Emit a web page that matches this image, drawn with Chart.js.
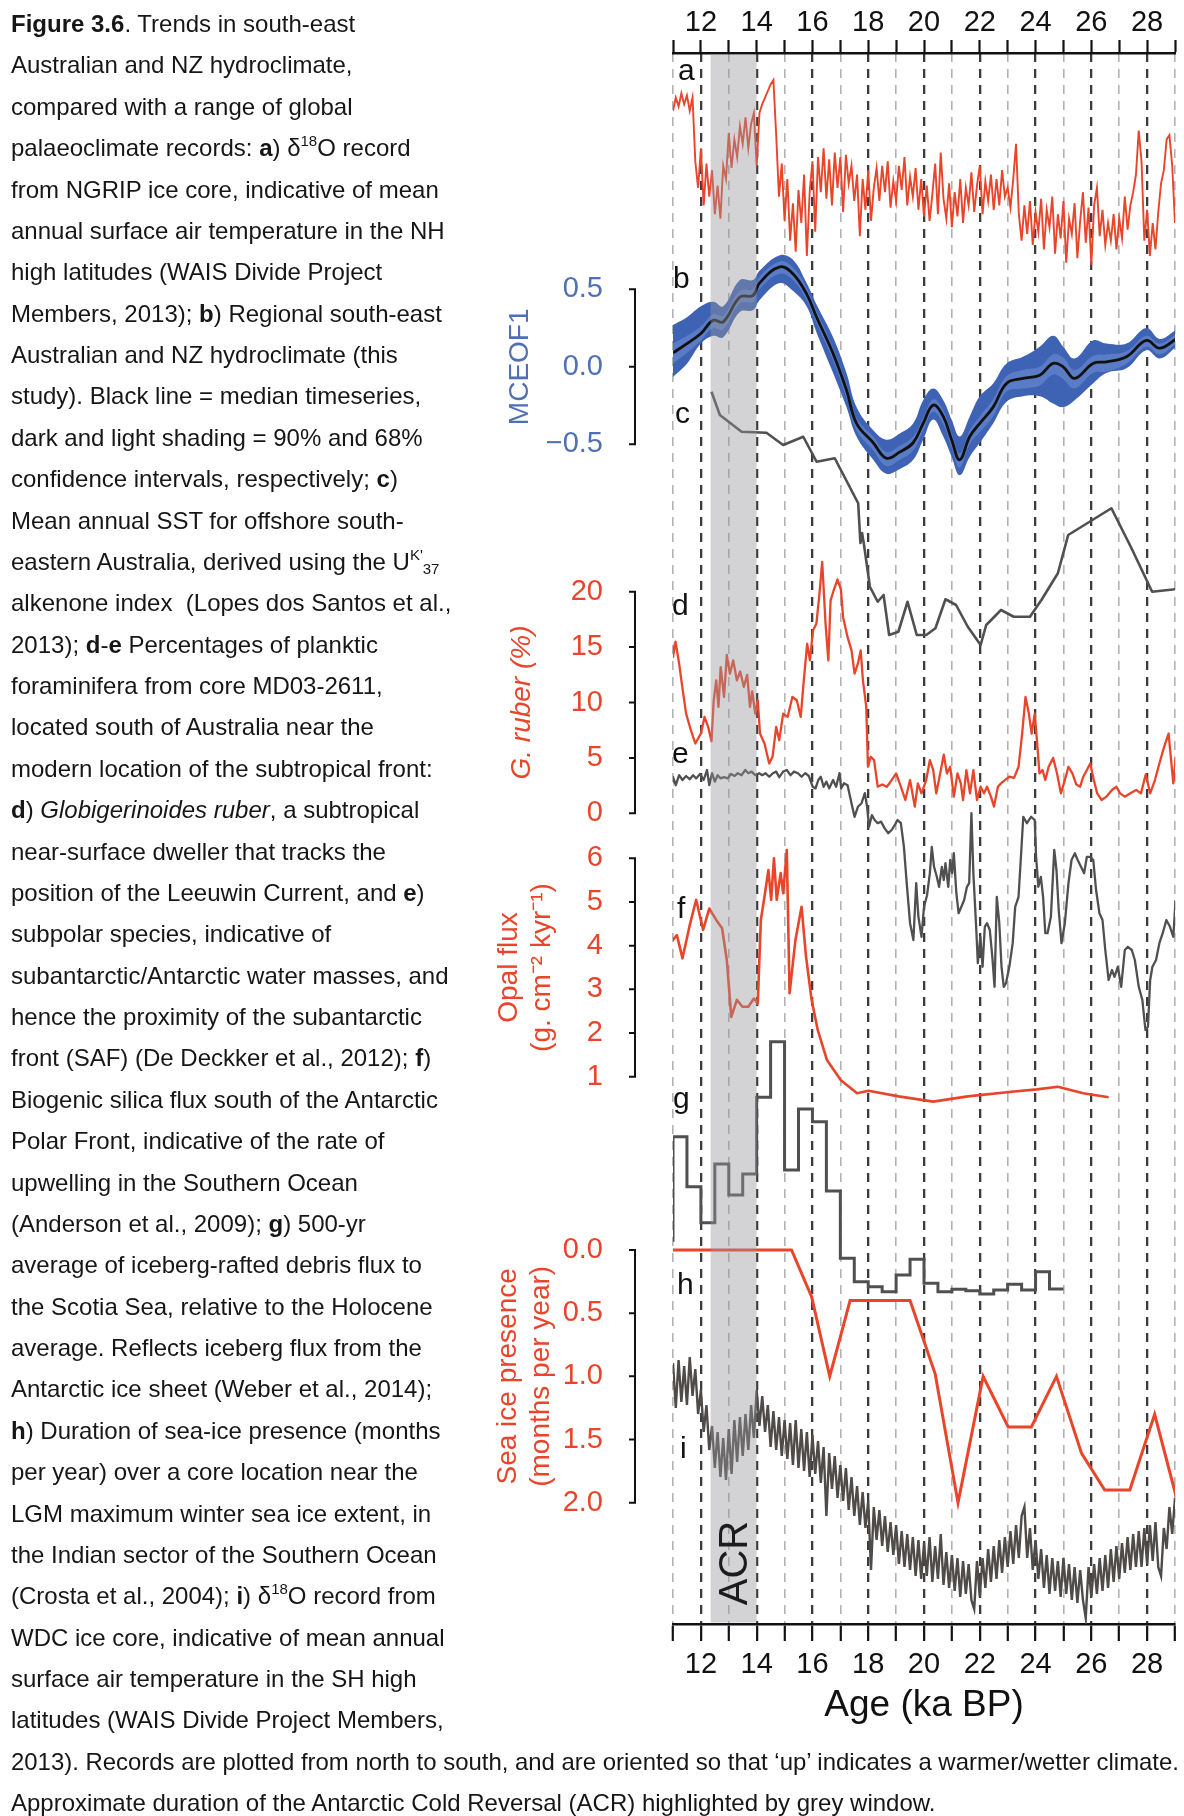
<!DOCTYPE html>
<html>
<head>
<meta charset="utf-8">
<title>Figure 3.6</title>
<script src="https://cdn.jsdelivr.net/npm/chart.js@4.4.1/dist/chart.umd.min.js"></script>
<style>
  html, body { margin: 0; padding: 0; background: #fff; }
  body { width: 1184px; height: 1816px; position: relative; overflow: hidden; }
  #chart { position: absolute; left: 0; top: 0; }
  .caption { position: absolute; left: 11px; top: 3px; z-index: 2;
    font-family: "Liberation Sans", Arial, Helvetica, sans-serif; font-size: 24px; color: #161616; }
  .caption div { height: 41.38px; line-height: 41.38px; white-space: nowrap; transform-origin: left center; }
  .caption sup, .caption sub { font-size: 15px; line-height: 0; position: relative; vertical-align: baseline; }
  .caption sup { top: -10px; }
  .caption sub { top: 4px; }
</style>
</head>
<body>
<canvas id="chart" width="1184" height="1816"></canvas>
<div class="caption">
  <div><b>Figure 3.6</b>. Trends in south-east</div>
  <div>Australian and NZ hydroclimate,</div>
  <div>compared with a range of global</div>
  <div>palaeoclimate records: <b>a</b>) δ<sup>18</sup>O record</div>
  <div>from NGRIP ice core, indicative of mean</div>
  <div>annual surface air temperature in the NH</div>
  <div>high latitudes (WAIS Divide Project</div>
  <div>Members, 2013); <b>b</b>) Regional south-east</div>
  <div>Australian and NZ hydroclimate (this</div>
  <div>study). Black line = median timeseries,</div>
  <div>dark and light shading = 90% and 68%</div>
  <div>confidence intervals, respectively; <b>c</b>)</div>
  <div>Mean annual SST for offshore south-</div>
  <div>eastern Australia, derived using the U<sup>K'</sup><sub>37</sub></div>
  <div>alkenone index&nbsp; (Lopes dos Santos et al.,</div>
  <div>2013); <b>d</b>-<b>e</b> Percentages of planktic</div>
  <div>foraminifera from core MD03-2611,</div>
  <div>located south of Australia near the</div>
  <div>modern location of the subtropical front:</div>
  <div><b>d</b>) <i>Globigerinoides ruber</i>, a subtropical</div>
  <div>near-surface dweller that tracks the</div>
  <div>position of the Leeuwin Current, and <b>e</b>)</div>
  <div>subpolar species, indicative of</div>
  <div>subantarctic/Antarctic water masses, and</div>
  <div>hence the proximity of the subantarctic</div>
  <div>front (SAF) (De Deckker et al., 2012); <b>f</b>)</div>
  <div>Biogenic silica flux south of the Antarctic</div>
  <div>Polar Front, indicative of the rate of</div>
  <div>upwelling in the Southern Ocean</div>
  <div>(Anderson et al., 2009); <b>g</b>) 500-yr</div>
  <div>average of iceberg-rafted debris flux to</div>
  <div>the Scotia Sea, relative to the Holocene</div>
  <div>average. Reflects iceberg flux from the</div>
  <div>Antarctic ice sheet (Weber et al., 2014);</div>
  <div><b>h</b>) Duration of sea-ice presence (months</div>
  <div>per year) over a core location near the</div>
  <div>LGM maximum winter sea ice extent, in</div>
  <div>the Indian sector of the Southern Ocean</div>
  <div>(Crosta et al., 2004); <b>i</b>) δ<sup>18</sup>O record from</div>
  <div>WDC ice core, indicative of mean annual</div>
  <div>surface air temperature in the SH high</div>
  <div>latitudes (WAIS Divide Project Members,</div>
  <div class="fit">2013). Records are plotted from north to south, and are oriented so that ‘up’ indicates a warmer/wetter climate.</div>
  <div>Approximate duration of the Antarctic Cold Reversal (ACR) highlighted by grey window.</div>
</div>
<script>
// ---- data -------------------------------------------------------------

const ageTicks = [11, 12, 13, 14, 15, 16, 17, 18, 19, 20, 21, 22, 23, 24, 25, 26, 27, 28, 29];
const acrWindow = [12.35, 14.0];

// a) NGRIP d18O (permil), 0.1 ka steps from 11.0 ka
const ngripStart = 11.0, ngripStep = 0.1;
const ngripD18O = [
  -35.9, -35.3, -35.7, -35.1, -35.6, -35.2, -35.9, -35.3, -38.2, -39.4,
  -37.6, -40.2, -38.3, -39.8, -38.6, -40.6, -39.3, -40.8, -38.4, -39.0,
  -36.9, -38.5, -37.2, -38.0, -36.6, -37.4, -36.2, -37.6, -36.5, -36.0,
  -38.4, -36.0, -35.6, -35.3, -35.0, -34.7, -34.5, -37.0, -39.8, -38.3,
  -40.9, -39.0, -41.8, -40.1, -42.3, -39.5, -41.0, -38.8, -42.5, -39.6,
  -38.2, -41.4, -38.0, -39.6, -37.6, -39.9, -38.1, -40.2, -37.8, -39.4,
  -38.0, -40.5, -37.9, -39.2, -38.4, -40.0, -38.8, -41.6, -39.0, -40.4,
  -38.6, -40.9, -39.4, -38.5, -40.0, -38.4, -39.6, -38.2, -40.3, -39.1,
  -40.0, -38.4, -39.5, -38.0, -40.2, -38.9, -39.8, -38.5, -40.4, -39.0,
  -40.7, -39.3, -40.9, -39.7, -38.3, -40.6, -37.8, -39.9, -40.8, -39.2,
  -41.2, -39.6, -40.7, -39.0, -41.0, -39.4, -40.2, -38.7, -40.5, -39.3,
  -38.4, -40.6, -39.1, -40.0, -38.8, -40.4, -39.0, -40.2, -38.6, -39.8,
  -39.4, -40.3, -39.0, -37.4, -40.6, -41.8, -40.2, -41.5, -40.0, -42.0,
  -40.5, -41.4, -39.9, -42.2, -40.4, -41.2, -39.8, -42.4, -40.6, -41.7,
  -40.0, -42.8, -40.8, -41.5, -40.1, -42.6, -40.9, -39.6, -41.9, -40.3,
  -42.9, -40.2, -39.4, -41.6, -40.4, -42.0, -41.0, -41.8, -40.6, -42.2,
  -40.8, -41.7, -39.8, -41.3, -40.2, -39.6, -38.8, -36.8, -38.2, -41.8,
  -40.4, -42.5, -41.0, -42.2, -40.5, -39.2, -38.6, -37.2, -37.0, -38.4,
  -41.0
];

// b) MCEOF1 median with 68% and 90% intervals
const mceofAge = [11.0, 11.5, 12.0, 12.44, 12.8, 13.4, 13.87, 14.1, 14.83, 15.3,
  15.79, 16.15, 16.74, 17.22, 17.58, 18.18, 18.65, 19.13, 19.61, 19.97,
  20.33, 20.69, 20.99, 21.28, 21.64, 22.0, 22.48, 22.96, 23.55, 24.15,
  24.63, 24.99, 25.4, 26.06, 26.54, 27.26, 27.97, 28.45, 29.05];
const mceofMedian = [0.09, 0.15, 0.215, 0.30, 0.29, 0.45, 0.46, 0.54, 0.645, 0.60,
  0.47, 0.32, 0.086, -0.15, -0.365, -0.49, -0.59, -0.55, -0.49, -0.365,
  -0.247, -0.32, -0.47, -0.60, -0.45, -0.365, -0.26, -0.107, -0.075, -0.054,
  0.022, 0.0, -0.075, 0.022, 0.032, 0.065, 0.17, 0.12, 0.18];
const mceofUpper68 = [0.15, 0.20, 0.26, 0.34, 0.33, 0.49, 0.50, 0.58, 0.68, 0.64,
  0.51, 0.36, 0.12, -0.11, -0.33, -0.45, -0.55, -0.51, -0.45, -0.33,
  -0.21, -0.28, -0.43, -0.56, -0.41, -0.32, -0.21, -0.06, -0.02, 0.0,
  0.08, 0.06, -0.02, 0.07, 0.08, 0.10, 0.20, 0.15, 0.21];
const mceofLower68 = [0.02, 0.09, 0.17, 0.25, 0.24, 0.41, 0.42, 0.50, 0.60, 0.56,
  0.43, 0.28, 0.04, -0.20, -0.41, -0.54, -0.64, -0.60, -0.54, -0.41,
  -0.29, -0.37, -0.52, -0.65, -0.50, -0.42, -0.32, -0.16, -0.14, -0.12,
  -0.05, -0.08, -0.14, -0.04, -0.03, 0.02, 0.13, 0.08, 0.15];
const mceofUpper90 = [0.27, 0.32, 0.39, 0.42, 0.39, 0.56, 0.56, 0.62, 0.72, 0.69,
  0.54, 0.40, 0.19, -0.04, -0.26, -0.41, -0.47, -0.43, -0.365, -0.215,
  -0.14, -0.215, -0.34, -0.45, -0.32, -0.19, -0.107, 0.022, 0.065, 0.13,
  0.20, 0.13, 0.054, 0.17, 0.15, 0.15, 0.25, 0.18, 0.24];
const mceofLower90 = [-0.065, 0.02, 0.15, 0.20, 0.19, 0.355, 0.366, 0.43, 0.54, 0.49,
  0.39, 0.22, -0.04, -0.26, -0.45, -0.60, -0.69, -0.66, -0.60, -0.47,
  -0.34, -0.45, -0.58, -0.70, -0.58, -0.49, -0.365, -0.226, -0.19, -0.19,
  -0.236, -0.26, -0.215, -0.107, -0.04, -0.01, 0.107, 0.054, 0.13];
const mceofTicks = [0.5, 0, -0.5];

// c) alkenone SST (degC)
const sstAge = [12.38, 12.68, 13.46, 14.35, 14.95, 15.67, 16.15, 16.8, 17.64, 17.72,
  17.78, 17.85, 18.06, 18.34, 18.55, 18.75, 19.08, 19.41, 19.74, 20.08,
  20.41, 20.77, 21.15, 21.57, 22.03, 22.23, 22.76, 23.22, 23.8, 24.21,
  24.8, 25.17, 26.72, 27.44, 28.18, 29.1];
const sstValue = [17.93, 17.0, 16.33, 16.29, 15.8, 16.13, 15.13, 15.27, 13.47, 11.88,
  12.28, 11.8, 10.13, 9.53, 9.8, 8.2, 8.33, 9.53, 8.2, 8.2,
  8.47, 9.63, 9.4, 8.53, 7.8, 8.6, 9.2, 8.93, 8.93, 9.6,
  10.67, 12.2, 13.27, 11.67, 9.93, 10.04];

// d) G. ruber (%)
const ruberAge = [10.95, 11.0, 11.09, 11.22, 11.3, 11.47, 11.64, 11.8, 12.0, 12.13,
  12.26, 12.38, 12.46, 12.55, 12.63, 12.71, 12.83, 12.93, 13.04, 13.16,
  13.29, 13.41, 13.54, 13.66, 13.76, 13.84, 13.95, 14.04, 14.12, 14.28,
  14.45, 14.57, 14.7, 14.81, 14.95, 15.11, 15.28, 15.44, 15.58, 15.69,
  15.81, 15.91, 16.02, 16.14, 16.24, 16.35, 16.47, 16.57, 16.65, 16.77,
  16.9, 17.02, 17.1, 17.26, 17.4, 17.51, 17.63, 17.73, 17.81, 17.93,
  17.99, 18.09, 18.21, 18.34, 18.5, 18.67, 18.84, 19.0, 19.17, 19.33,
  19.5, 19.67, 19.78, 19.91, 20.08, 20.21, 20.33, 20.44, 20.58, 20.71,
  20.82, 20.94, 21.07, 21.2, 21.32, 21.4, 21.52, 21.65, 21.77, 21.9,
  22.03, 22.15, 22.26, 22.4, 22.51, 22.65, 22.76, 22.9, 23.06, 23.23,
  23.39, 23.52, 23.64, 23.76, 23.86, 23.97, 24.05, 24.14, 24.25, 24.35,
  24.47, 24.63, 24.77, 24.91, 25.05, 25.18, 25.32, 25.46, 25.6, 25.71,
  25.84, 25.96, 26.09, 26.21, 26.37, 26.54, 26.74, 26.9, 27.03, 27.2,
  27.4, 27.61, 27.78, 27.95, 28.11, 28.28, 28.44, 28.61, 28.77, 28.94, 29.11];
const ruberPct = [15.9, 14.1, 15.5, 13.5, 12.0, 9.0, 7.5, 6.3, 7.2, 8.7,
  7.8, 6.5, 10.2, 12.0, 9.6, 13.2, 10.5, 14.3, 12.6, 13.8,
  12.0, 12.8, 11.4, 12.5, 9.6, 11.0, 9.0, 10.2, 7.2, 6.3,
  4.5, 5.1, 7.8, 6.6, 9.0, 8.7, 10.5, 10.2, 8.7, 12.0,
  15.3, 13.8, 16.5, 17.1, 19.5, 22.7, 17.1, 13.8, 19.2, 20.2,
  21.1, 20.2, 17.7, 15.9, 14.7, 12.6, 13.5, 14.7, 12.0, 9.6,
  4.2, 5.1, 4.8, 2.4, 2.6, 2.4, 3.0, 3.6, 2.4, 1.2,
  3.0, 0.6, 2.7, 1.8, 3.0, 4.8, 3.9, 1.8, 3.6, 5.3,
  3.6, 4.2, 1.5, 3.6, 2.7, 1.2, 3.9, 1.8, 3.9, 1.2,
  2.4, 1.8, 2.4, 1.5, 0.6, 2.4, 2.7, 3.0, 3.3, 3.2,
  4.2, 7.2, 10.5, 9.0, 7.2, 9.0, 6.6, 3.6, 3.9, 3.0,
  4.2, 5.0, 3.6, 1.8, 3.0, 4.2, 3.6, 2.6, 2.4, 3.3,
  3.9, 4.5, 3.0, 1.8, 1.2, 1.5, 2.1, 2.4, 1.8, 1.5,
  1.8, 2.1, 1.8, 3.5, 1.8, 3.0, 4.5, 6.0, 7.2, 2.7, 7.2];
const ruberTicks = [0, 5, 10, 15, 20];

// e) subpolar species (%), plotted downward
const subpolarAge = [10.95, 11.0, 11.1, 11.22, 11.34, 11.47, 11.6, 11.72, 11.83, 11.97,
  12.1, 12.22, 12.3, 12.4, 12.5, 12.6, 12.71, 12.83, 12.96, 13.08,
  13.21, 13.32, 13.46, 13.59, 13.7, 13.82, 13.95, 14.09, 14.2, 14.32,
  14.45, 14.58, 14.7, 14.81, 14.95, 15.08, 15.21, 15.34, 15.48, 15.61,
  15.74, 15.87, 16.01, 16.11, 16.21, 16.3, 16.4, 16.5, 16.6, 16.74,
  16.85, 16.97, 17.03, 17.13, 17.26, 17.4, 17.51, 17.63, 17.76, 17.88,
  17.96, 18.03, 18.13, 18.23, 18.34, 18.46, 18.59, 18.72, 18.84, 18.95,
  19.05, 19.17, 19.28, 19.38, 19.5, 19.62, 19.72, 19.8, 19.91, 20.0,
  20.11, 20.21, 20.28, 20.36, 20.46, 20.54, 20.64, 20.71, 20.77, 20.87,
  20.94, 21.01, 21.07, 21.16, 21.24, 21.34, 21.44, 21.54, 21.62, 21.7,
  21.77, 21.87, 21.93, 22.02, 22.1, 22.18, 22.26, 22.36, 22.45, 22.53,
  22.61, 22.7, 22.78, 22.86, 22.94, 23.06, 23.18, 23.27, 23.39, 23.49,
  23.56, 23.69, 23.84, 23.97, 24.02, 24.1, 24.19, 24.27, 24.35, 24.43,
  24.55, 24.67, 24.75, 24.83, 24.93, 25.05, 25.18, 25.29, 25.41, 25.51,
  25.63, 25.74, 25.84, 25.96, 26.07, 26.17, 26.29, 26.4, 26.5, 26.62,
  26.74, 26.83, 26.95, 27.07, 27.2, 27.31, 27.45, 27.56, 27.7, 27.83,
  27.94, 28.03, 28.11, 28.19, 28.32, 28.44, 28.56, 28.69, 28.82, 28.94, 29.02];
const subpolarPct = [22.5, 19.2, 21.3, 18.8, 20.0, 19.0, 19.8, 18.8, 19.6, 18.5,
  20.0, 17.5, 21.3, 18.3, 20.4, 18.8, 19.6, 19.3, 19.6, 18.5,
  19.0, 18.3, 18.8, 17.5, 18.3, 17.9, 18.8, 18.3, 18.8, 18.3,
  19.2, 18.3, 17.9, 19.3, 17.9, 17.5, 18.8, 17.9, 18.3, 19.2,
  18.3, 19.0, 21.7, 22.1, 20.0, 19.2, 21.7, 20.4, 22.1, 20.0,
  21.7, 18.3, 22.1, 20.8, 21.3, 25.8, 29.2, 26.7, 25.8, 23.3,
  26.7, 31.7, 28.8, 30.0, 30.8, 30.4, 32.1, 33.3, 32.5, 31.3,
  30.0, 30.8, 36.7, 45.8, 55.8, 60.0, 45.8, 54.2, 59.2, 51.7,
  48.8, 43.3, 36.7, 41.7, 44.2, 46.7, 41.7, 45.0, 40.8, 46.7,
  40.0, 43.3, 38.3, 48.3, 53.3, 51.7, 50.0, 46.7, 45.8, 28.3,
  43.3, 56.7, 65.8, 59.2, 66.7, 56.7, 55.8, 57.5, 64.2, 71.7,
  49.2, 55.8, 66.7, 71.7, 70.8, 66.7, 60.8, 51.7, 49.2, 37.5,
  29.2, 30.8, 29.2, 30.0, 39.2, 46.7, 44.2, 49.2, 58.3, 58.3,
  54.2, 37.5, 42.5, 52.5, 60.8, 55.8, 45.8, 40.0, 38.3, 40.0,
  41.7, 43.3, 39.2, 39.2, 40.0, 47.5, 53.3, 55.0, 62.5, 70.0,
  67.5, 69.2, 66.7, 71.7, 62.5, 61.7, 62.5, 65.0, 71.7, 75.0,
  82.5, 81.7, 70.0, 66.7, 65.0, 60.8, 58.3, 55.0, 56.7, 59.2, 50.0];

// f) opal flux (g cm-2 kyr-1)
const opalAge = [10.94, 11.14, 11.34, 11.59, 11.83, 12.08, 12.3, 12.55, 12.76, 12.93,
  13.09, 13.29, 13.49, 13.7, 13.9, 14.04, 14.15, 14.28, 14.42, 14.52,
  14.62, 14.72, 14.86, 14.95, 15.08, 15.18, 15.39, 15.61, 15.77, 15.97,
  16.19, 16.52, 17.02, 17.6, 18.01, 19.09, 20.33, 21.57, 23.23, 24.05,
  24.8, 25.71, 26.62];
const opalFlux = [4.09, 4.24, 3.71, 4.44, 5.05, 4.36, 4.85, 4.59, 4.4, 3.67,
  2.37, 2.76, 2.6, 2.6, 2.79, 2.68, 4.59, 5.12, 5.73, 5.05,
  6.0, 5.05, 5.66, 5.2, 6.19, 2.91, 4.13, 4.89, 3.75, 2.76,
  2.07, 1.38, 0.92, 0.62, 0.68, 0.55, 0.43, 0.55, 0.66, 0.71,
  0.77, 0.62, 0.53];
const opalTicks = [1, 2, 3, 4, 5, 6];

// g) 500-yr IRD flux relative to Holocene (stepped)
const irdAge = [11.0, 11.0, 11.5, 12.0, 12.5, 13.0, 13.5, 14.0, 14.5, 15.0,
  15.5, 16.0, 16.5, 17.0, 17.5, 18.0, 18.5, 19.0, 19.5, 20.0,
  20.5, 21.0, 21.5, 22.0, 22.5, 23.0, 23.5, 24.0, 24.5, 25.0];
const irdFlux = [2.33, 6.53, 4.53, 3.09, 5.44, 4.2, 5.04, 8.11, 10.33, 5.2,
  7.64, 7.13, 4.36, 1.67, 0.73, 0.53, 0.33, 1.0, 1.63, 0.67,
  0.33, 0.43, 0.37, 0.24, 0.4, 0.63, 0.4, 1.13, 0.44, 0.44];

// h) sea-ice presence (months per year)
const seaIceAge = [11.0, 15.25, 15.97, 16.62, 17.35, 19.5, 20.4, 21.22, 22.12, 23.02,
  23.85, 24.75, 25.65, 26.48, 27.38, 28.27, 29.1];
const seaIceMonths = [0, 0, 0.37, 1.0, 0.4, 0.4, 0.98, 2.0, 1.0, 1.4,
  1.4, 1.0, 1.61, 1.9, 1.9, 1.3, 2.0];
const seaIceTicks = [0, 0.5, 1, 1.5, 2];

// i) WDC d18O (permil), 0.1 ka steps from 11.0 ka
const wdcStart = 11.0, wdcStep = 0.1;
const wdcD18O = [
  -34.1, -35.6, -34.0, -35.4, -34.2, -35.5, -33.9, -35.2, -34.3, -35.8,
  -35.0, -36.4, -35.5, -37.0, -36.2, -37.6, -36.4, -37.9, -36.6, -38.0,
  -36.3, -37.8, -36.0, -37.4, -35.9, -37.2, -35.8, -37.0, -35.5, -36.6,
  -35.0, -36.2, -35.2, -36.4, -35.5, -36.9, -35.7, -37.0, -35.9, -37.2,
  -36.0, -37.3, -36.1, -37.5, -36.0, -37.6, -36.3, -37.7, -36.4, -37.9,
  -36.5, -37.8, -36.7, -38.1, -36.9, -39.2, -37.1, -38.3, -37.2, -38.6,
  -37.5, -38.7, -37.6, -39.0, -37.9, -39.2, -38.2, -39.5, -38.4, -39.6,
  -38.7, -41.0, -38.9, -40.0, -39.0, -40.2, -39.2, -40.4, -39.4, -40.5,
  -39.5, -40.8, -39.7, -40.9, -39.8, -41.0, -39.9, -41.2, -40.0, -41.3,
  -40.1, -41.2, -39.9, -41.4, -40.2, -41.3, -39.8, -41.5, -40.4, -41.6,
  -40.5, -41.7, -40.6, -41.9, -40.7, -41.8, -40.8, -42.0, -42.3, -40.7,
  -41.9, -40.6, -41.6, -40.3, -41.4, -40.2, -41.3, -40.0, -41.1, -39.9,
  -40.9, -39.7, -40.8, -39.5, -40.6, -39.2, -38.9, -40.6, -39.6, -41.0,
  -40.0, -41.3, -40.3, -41.6, -40.5, -41.8, -40.6, -41.7, -40.7, -41.9,
  -40.6, -41.8, -40.8, -42.0, -40.9, -42.1, -41.0, -42.0, -42.6, -40.9,
  -41.9, -40.8, -41.8, -40.6, -41.7, -40.5, -41.6, -40.3, -41.4, -40.2,
  -41.3, -40.1, -41.1, -39.9, -41.0, -39.8, -40.9, -39.7, -40.9, -39.6,
  -40.8, -39.5, -40.7, -39.4, -40.9, -41.2, -39.6, -40.3, -38.9, -39.8,
  -38.6
];

// ---- layout -----------------------------------------------------------

const FONT = '"Liberation Sans", Arial, Helvetica, sans-serif';
const RED = '#e8452b';
const BLUE_TXT = '#4f70b2';
const GREY = '#505050';
const AREA_TOP = 53, AREA_BOTTOM = 1624;
const AXIS_X = 635, LABEL_RIGHT = 603;

// two reference values and the rows they sit on -> full-height scale range
function span(vA, yA, vB, yB) {
  const k = (vA - vB) / (yB - yA);
  const top = vA + k * (yA - AREA_TOP);
  const bottom = vB - k * (AREA_BOTTOM - yB);
  return top > bottom
    ? { min: bottom, max: top, reverse: false }
    : { min: top, max: bottom, reverse: true };
}

const panelSpans = {
  yA: span(-34.5, 80, -43.5, 278),
  yB: span(0.5, 289.3, -0.5, 444.3),
  yC: span(18, 390, 8, 640),
  yD: span(20, 591.7, 0, 813.3),
  yE: span(20, 780, 80, 1020),
  yF: span(6, 858.3, 1, 1076.7),
  yG: span(10, 1050, 0, 1300),
  yH: span(0, 1250, 2, 1502.7),
  yI: span(-34, 1360, -42, 1600)
};

const panelLetters = [
  ['a', 678, 80], ['b', 673, 288], ['c', 675, 423], ['d', 672, 615], ['e', 672, 763],
  ['f', 677, 918], ['g', 673, 1108], ['h', 677, 1294], ['i', 680, 1458]
];

const leftAxes = [
  { id: 'yB', ticks: mceofTicks, digits: 1, color: BLUE_TXT,
    title: [{ x: 520, runs: [{ t: 'MCEOF1' }] }] },
  { id: 'yD', ticks: ruberTicks, digits: 0, color: RED,
    title: [{ x: 522, runs: [{ t: 'G. ruber', i: true }, { t: ' (%)', i: true }] }] },
  { id: 'yF', ticks: opalTicks, digits: 0, color: RED,
    title: [{ x: 509, runs: [{ t: 'Opal flux' }] }, { x: 542, runs: [{ t: '(g. cm\u207B\u00B2 kyr\u207B\u00B9)' }] }] },
  { id: 'yH', ticks: seaIceTicks, digits: 1, color: RED,
    title: [{ x: 508, runs: [{ t: 'Sea ice presence' }] }, { x: 541, runs: [{ t: '(months per year)' }] }] }
];

// ---- helpers ----------------------------------------------------------

const zip = (xs, ys) => xs.map((x, i) => ({ x, y: ys[i] }));
const regular = (start, step, ys) => ys.map((y, i) => ({ x: +(start + step * i).toFixed(2), y }));
const fmtTick = (v, digits) => v.toFixed(digits).replace('-', '\u2212');

function line(data, yAxisID, color, width, extra) {
  return Object.assign({
    data, yAxisID, xAxisID: 'x',
    borderColor: color, borderWidth: width,
    pointRadius: 0, fill: false, tension: 0,
    borderJoinStyle: 'round', order: 4
  }, extra || {});
}

function drawRotated(ctx, runs, x, y, color, size) {
  ctx.save();
  ctx.translate(x, y);
  ctx.rotate(-Math.PI / 2);
  const fontOf = r => (r.i ? 'italic ' : '') + size + 'px ' + FONT;
  let total = 0;
  runs.forEach(r => { ctx.font = fontOf(r); total += ctx.measureText(r.t).width; });
  let cx = -total / 2;
  ctx.textAlign = 'left';
  ctx.textBaseline = 'middle';
  ctx.fillStyle = color;
  runs.forEach(r => {
    ctx.font = fontOf(r);
    ctx.fillText(r.t, cx, 0);
    cx += ctx.measureText(r.t).width;
  });
  ctx.restore();
}

// ACR window, panel axes on the left, panel letters
const frame = {
  id: 'frame',
  afterDatasetsDraw(chart) {
    const { ctx, chartArea: a, scales } = chart;
    const xs = scales.x;
    const x1 = xs.getPixelForValue(acrWindow[0]);
    const x2 = xs.getPixelForValue(acrWindow[1]);
    ctx.save();
    ctx.fillStyle = 'rgba(150,150,156,0.42)';
    ctx.fillRect(x1, a.top + 1.5, x2 - x1, a.bottom - a.top - 3);

    ctx.fillStyle = '#111';
    ctx.font = '30px ' + FONT;
    ctx.textAlign = 'left';
    ctx.textBaseline = 'alphabetic';
    panelLetters.forEach(([t, x, y]) => ctx.fillText(t, x, y));
    ctx.restore();

    drawRotated(ctx, [{ t: 'ACR' }], (x1 + x2) / 2 + 2, 1563, '#1c1c1c', 40);
  },
  afterDraw(chart) {
    const { ctx, scales } = chart;
    leftAxes.forEach(ax => {
      const s = scales[ax.id];
      const ys = ax.ticks.map(v => s.getPixelForValue(v));
      const yMin = Math.min(...ys), yMax = Math.max(...ys);
      ctx.save();
      ctx.strokeStyle = '#111';
      ctx.lineWidth = 2;
      ctx.beginPath();
      ctx.moveTo(AXIS_X, yMin - 1);
      ctx.lineTo(AXIS_X, yMax + 1);
      ys.forEach(y => { ctx.moveTo(AXIS_X + 1, y); ctx.lineTo(AXIS_X - 6, y); });
      ctx.stroke();
      ctx.fillStyle = ax.color;
      ctx.font = '29px ' + FONT;
      ctx.textAlign = 'right';
      ctx.textBaseline = 'middle';
      ax.ticks.forEach((v, k) => ctx.fillText(fmtTick(v, ax.digits), LABEL_RIGHT, ys[k]));
      ctx.restore();
      const yc = (yMin + yMax) / 2;
      ax.title.forEach(tl => drawRotated(ctx, tl.runs, tl.x, yc, ax.color, 28));
    });
  }
};

// ---- chart ------------------------------------------------------------

const datasets = [
  line(regular(ngripStart, ngripStep, ngripD18O), 'yA', RED, 1.9, { order: 5, borderJoinStyle: 'miter' }),
  line(zip(mceofAge, mceofUpper90), 'yB', 'rgba(0,0,0,0)', 0,
    { fill: '+1', backgroundColor: '#3e63b5', tension: 0.4, order: 10 }),
  line(zip(mceofAge, mceofLower90), 'yB', 'rgba(0,0,0,0)', 0, { tension: 0.4, order: 10 }),
  line(zip(mceofAge, mceofUpper68), 'yB', 'rgba(0,0,0,0)', 0,
    { fill: '+1', backgroundColor: '#5a7cc6', tension: 0.4, order: 9 }),
  line(zip(mceofAge, mceofLower68), 'yB', 'rgba(0,0,0,0)', 0, { tension: 0.4, order: 9 }),
  line(zip(mceofAge, mceofMedian), 'yB', '#111', 2.8, { tension: 0.4, order: 8 }),
  line(zip(sstAge, sstValue), 'yC', GREY, 2.6, { order: 6 }),
  line(zip(ruberAge, ruberPct), 'yD', RED, 2.3),
  line(zip(subpolarAge, subpolarPct), 'yE', GREY, 2.3),
  line(zip(opalAge, opalFlux), 'yF', RED, 2.6),
  line(zip(irdAge, irdFlux), 'yG', GREY, 3, { stepped: true, borderJoinStyle: 'miter' }),
  line(zip(seaIceAge, seaIceMonths), 'yH', RED, 3, { borderJoinStyle: 'miter' }),
  line(regular(wdcStart, wdcStep, wdcD18O), 'yI', '#4f4b49', 2.4, { borderJoinStyle: 'miter' })
];

const hiddenY = id => Object.assign({ type: 'linear', display: false }, panelSpans[id]);

const evenAge = c => c.tick && c.tick.value % 2 === 0;

new Chart(document.getElementById('chart'), {
  type: 'line',
  data: { datasets },
  options: {
    responsive: false,
    animation: false,
    devicePixelRatio: 1,
    parsing: false,
    layout: { padding: { left: 673, right: 9, top: 0, bottom: 0 } },
    plugins: { legend: { display: false }, tooltip: { enabled: false } },
    font: { family: FONT },
    scales: {
      x: {
        type: 'linear', position: 'bottom', min: 11, max: 29,
        afterBuildTicks: s => { s.ticks = ageTicks.map(value => ({ value })); },
        afterFit: s => { s.height = 192; },
        ticks: {
          autoSkip: false, maxRotation: 0, padding: 7, color: '#111',
          font: { family: FONT, size: 29 },
          callback: v => (v % 2 === 0 ? String(v) : '')
        },
        grid: {
          drawOnChartArea: true,
          color: c => (evenAge(c) ? '#3c3c3c' : '#b2b2b2'),
          lineWidth: c => (evenAge(c) ? 2.3 : 1.6),
          tickLength: 17, tickWidth: 2.2, tickColor: '#111'
        },
        border: { display: true, color: '#111', width: 2.6, dash: [9, 7] },
        title: {
          display: true, text: 'Age (ka BP)', color: '#111',
          font: { family: FONT, size: 37 }, padding: { top: 0, bottom: 88 }
        }
      },
      xTop: {
        type: 'linear', position: 'top', min: 11, max: 29,
        afterBuildTicks: s => { s.ticks = ageTicks.map(value => ({ value })); },
        afterFit: s => { s.height = 53; },
        ticks: {
          autoSkip: false, maxRotation: 0, padding: 0, color: '#111',
          font: { family: FONT, size: 29 },
          callback: v => (v % 2 === 0 ? String(v) : '')
        },
        grid: { drawOnChartArea: false, tickLength: 13, tickWidth: 2.2, tickColor: '#111' },
        border: { display: true, color: '#111', width: 2.6 }
      },
      yA: hiddenY('yA'), yB: hiddenY('yB'), yC: hiddenY('yC'),
      yD: hiddenY('yD'), yE: hiddenY('yE'), yF: hiddenY('yF'),
      yG: hiddenY('yG'), yH: hiddenY('yH'), yI: hiddenY('yI')
    }
  },
  plugins: [frame]
});

// squeeze the long full-width caption line into the page
document.querySelectorAll('.caption .fit').forEach(el => {
  const range = document.createRange();
  range.selectNodeContents(el);
  const w = range.getBoundingClientRect().width;
  if (w > 1168) el.style.transform = 'scaleX(' + (1168 / w).toFixed(4) + ')';
});
</script>
</body>
</html>
